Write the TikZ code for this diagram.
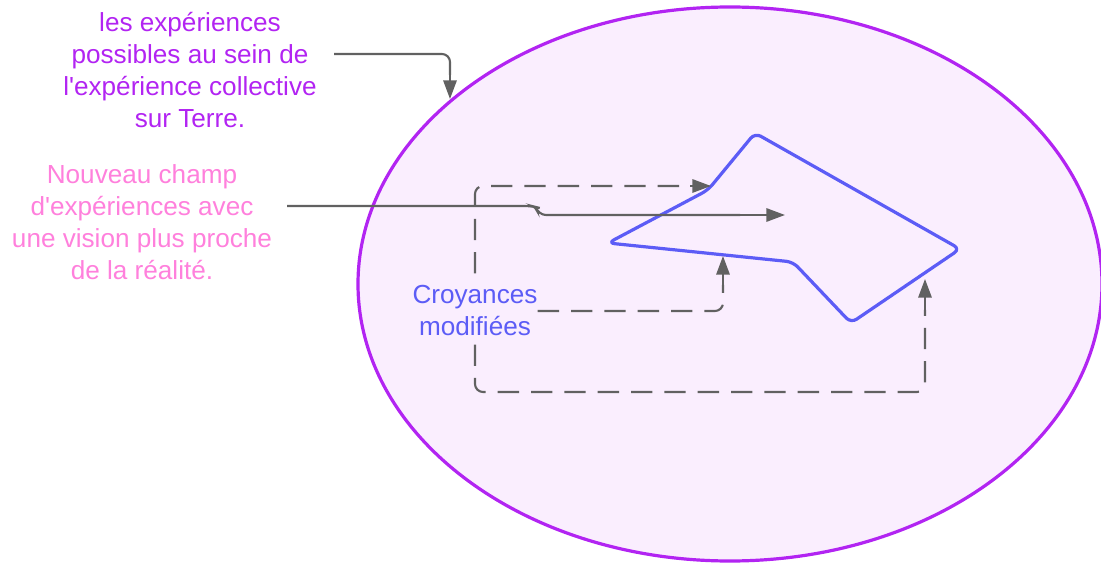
\documentclass[tikz,border=0pt]{standalone}
\usepackage{fontspec}
\setmainfont{Liberation Sans}[Ligatures=TeXOff]
\usetikzlibrary{arrows.meta}
\definecolor{ellstroke}{HTML}{B224F2}
\definecolor{ellfill}{HTML}{FAEEFE}
\definecolor{shapeblue}{HTML}{5C5CF6}
\definecolor{pinktext}{HTML}{FF80DC}
\definecolor{conngray}{HTML}{616161}
\tikzset{
  lbl/.style={align=center, font=\fontsize{19.6pt}{24pt}\selectfont, inner sep=0pt},
  conn/.style={draw=conngray, line width=1.6pt, rounded corners=6pt},
  dconn/.style={conn, dash pattern=on 16pt off 9pt},
  tipseg/.style={draw=conngray, line width=1.6pt, -{Triangle[length=14pt,width=10pt]}},
}
\begin{document}
\begin{tikzpicture}[x=0.75pt,y=-0.75pt]
\useasboundingbox (0,0) rectangle (1101,563);
% big ellipse
\draw[ellstroke, fill=ellfill, line width=2.4pt] (730,284) ellipse [x radius=372, y radius=277];
\coordinate (elltop) at (450,99);
% blue shape
\draw[shapeblue, line width=2.4pt, rounded corners=5pt, line join=round]
  (608,243) -- (708,190) -- (755,133) -- (960,249) -- (851,323) -- (793,262) -- cycle;
% texts
\node[lbl, text=ellstroke] (top) at (190,70) {les expériences\\possibles au sein de\\l'expérience collective\\sur Terre.};
\node[lbl, text=pinktext] (pink) at (142,222) {Nouveau champ\\d'expériences avec\\une vision plus proche\\de la réalité.};
\node[lbl, text=shapeblue] (croy) at (475,311) {Croyances\\modifiées};
% targets
\coordinate (t1) at (711,186);
\coordinate (t2) at (723,256);
\coordinate (t3) at (925,279);
\coordinate (t4) at (785,215);
\coordinate (s1) at (334,54);
\coordinate (s2) at (287,206);
\coordinate (b1) at (450,75);
\coordinate (b4) at (740,215);
\coordinate (b2) at (723,285);
\coordinate (b3) at (925,310);
\coordinate (b0) at (690,186);
% connectors
\draw[conn] (s1) -| (b1);
\draw[tipseg] (b1) -- (elltop);
\draw[conn] (s2) -- (532,206) to[rounded corners=3pt] (536,207) -- (538,215) -- (b4);
\draw[tipseg] (b4) -- (t4);
\draw[dconn] (croy.north) ++(0,-12) |- (b0);
\draw[tipseg] (b0) -- (t1);
\draw[dconn] (croy.east) -| (b2);
\draw[tipseg, dash pattern=on 16pt off 9pt] (b2) -- (t2);
\draw[dconn] (croy.south) ++(0,8) |- (925,392) -- (b3);
\draw[tipseg, dash pattern=on 16pt off 9pt] (b3) -- (t3);
\end{tikzpicture}
\end{document}
